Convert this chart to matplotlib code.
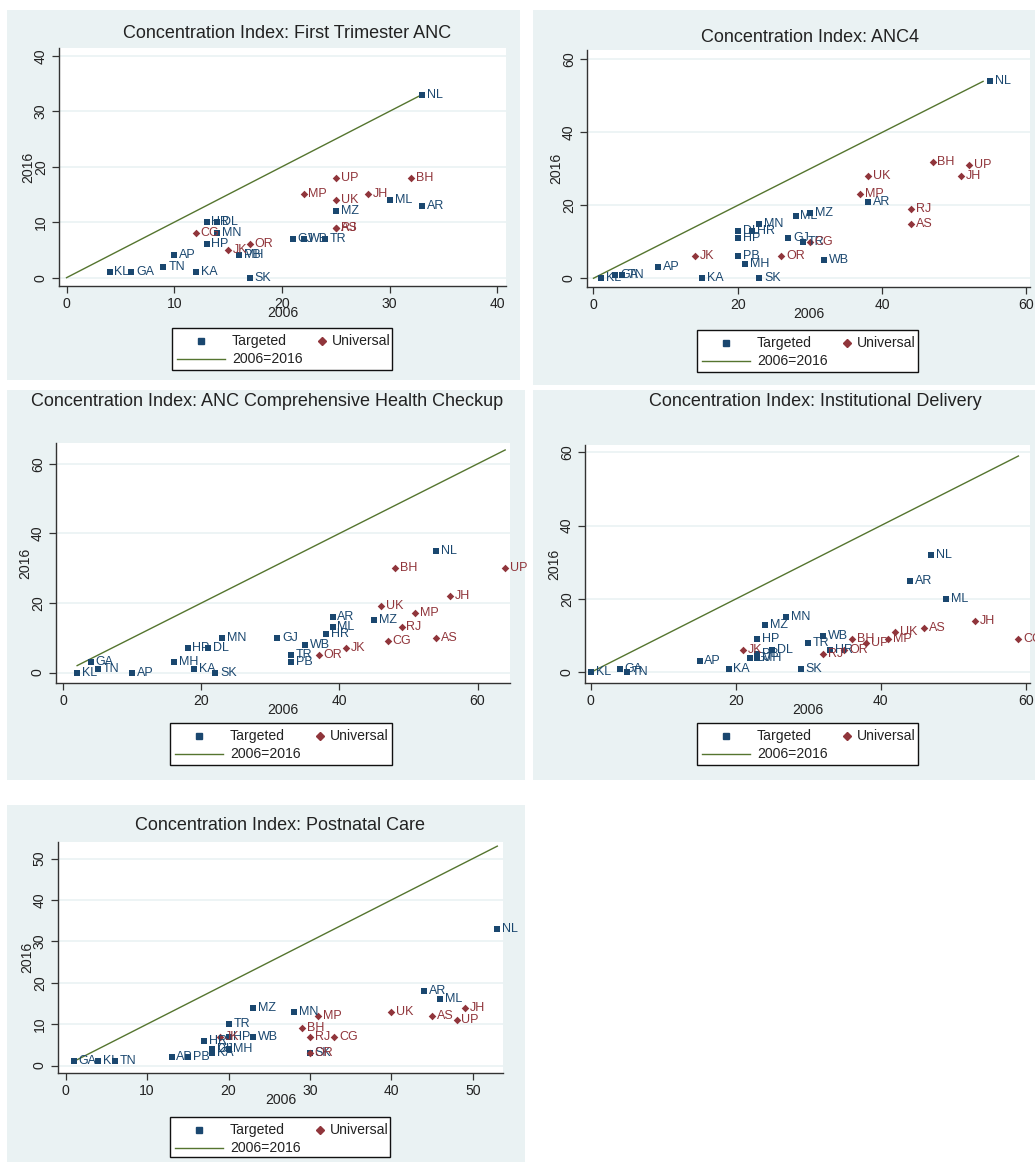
import matplotlib
matplotlib.use("Agg")
import matplotlib.pyplot as plt
from matplotlib.patches import Rectangle
from matplotlib.lines import Line2D

plt.rcParams['font.family'] = ['Liberation Sans', 'DejaVu Sans']

# ---------------- DATA ----------------
titles = [
    "Concentration Index: First Trimester ANC",
    "Concentration Index: ANC4",
    "Concentration Index: ANC Comprehensive Health Checkup",
    "Concentration Index: Institutional Delivery",
    "Concentration Index: Postnatal Care",
]

# Panel 1: First Trimester ANC
p1_t_states = ["NL", "ML", "AR", "MZ", "HR", "DL", "MN", "HP", "KL", "GA", "TN", "KA", "AP", "SK", "GJ", "WB", "TR", "MH", "PB"]
p1_t_2006 = [33, 30, 33, 25, 13, 14, 14, 13, 4, 6, 9, 12, 10, 17, 21, 22, 24, 16, 16]
p1_t_2016 = [33, 14, 13, 12, 10, 10, 8, 6, 1, 1, 2, 1, 4, 0, 7, 7, 7, 4, 4]
p1_u_states = ["UP", "BH", "MP", "JH", "UK", "RJ", "AS", "CG", "OR", "JK"]
p1_u_2006 = [25, 32, 22, 28, 25, 25, 25, 12, 17, 15]
p1_u_2016 = [18, 18, 15, 15, 14, 9, 9, 8, 6, 5]
p1_line = [0, 33]

# Panel 2: ANC4
p2_t_states = ["NL", "AR", "MZ", "ML", "MN", "HR", "DL", "HP", "GJ", "TR", "PB", "MH", "WB", "SK", "KA", "AP", "KL", "GA", "TN"]
p2_t_2006 = [55, 38, 30, 28, 23, 22, 20, 20, 27, 29, 20, 21, 32, 23, 15, 9, 1, 3, 4]
p2_t_2016 = [54, 21, 18, 17, 15, 13, 13, 11, 11, 10, 6, 4, 5, 0, 0, 3, 0, 1, 1]
p2_u_states = ["BH", "UP", "JH", "UK", "MP", "RJ", "AS", "CG", "OR", "JK"]
p2_u_2006 = [47, 52, 51, 38, 37, 44, 44, 30, 26, 14]
p2_u_2016 = [32, 31, 28, 28, 23, 19, 15, 10, 6, 6]
p2_line = [0, 54]

# Panel 3: ANC Comprehensive Health Checkup
p3_t_states = ["NL", "AR", "ML", "HR", "MZ", "GJ", "WB", "TR", "PB", "MN", "HP", "DL", "MH", "KA", "SK", "GA", "TN", "KL", "AP"]
p3_t_2006 = [54, 39, 39, 38, 45, 31, 35, 33, 33, 23, 18, 21, 16, 19, 22, 4, 5, 2, 10]
p3_t_2016 = [35, 16, 13, 11, 15, 10, 8, 5, 3, 10, 7, 7, 3, 1, 0, 3, 1, 0, 0]
p3_u_states = ["UP", "BH", "JH", "UK", "MP", "RJ", "AS", "CG", "JK", "OR"]
p3_u_2006 = [64, 48, 56, 46, 51, 49, 54, 47, 41, 37]
p3_u_2016 = [30, 30, 22, 19, 17, 13, 10, 9, 7, 5]
p3_line = [2, 64]

# Panel 4: Institutional Delivery
p4_t_states = ["NL", "AR", "ML", "MN", "MZ", "HP", "WB", "TR", "DL", "HR", "GJ", "PB", "MH", "SK", "AP", "KA", "GA", "TN", "KL"]
p4_t_2006 = [47, 44, 49, 27, 24, 23, 32, 30, 25, 33, 22, 23, 23, 29, 15, 19, 4, 5, 0]
p4_t_2016 = [32, 25, 20, 15, 13, 9, 10, 8, 6, 6, 4, 5, 4, 1, 3, 1, 1, 0, 0]
p4_u_states = ["JH", "AS", "UK", "MP", "UP", "BH", "OR", "RJ", "JK", "CG"]
p4_u_2006 = [53, 46, 42, 41, 38, 36, 35, 32, 21, 59]
p4_u_2016 = [14, 12, 11, 9, 8, 9, 6, 5, 6, 9]
p4_line = [0, 59]

# Panel 5: Postnatal Care
p5_t_states = ["NL", "AR", "ML", "MZ", "MN", "TR", "WB", "HP", "HR", "GJ", "DL", "MH", "KA", "SK", "PB", "AP", "GA", "KL", "TN"]
p5_t_2006 = [53, 44, 46, 23, 28, 20, 23, 20, 17, 18, 18, 20, 18, 30, 15, 13, 1, 4, 6]
p5_t_2016 = [33, 18, 16, 14, 13, 10, 7, 7, 6, 4, 4, 4, 3, 3, 2, 2, 1, 1, 1]
p5_u_states = ["JH", "UK", "MP", "AS", "UP", "BH", "RJ", "CG", "JK", "OR"]
p5_u_2006 = [49, 40, 31, 45, 48, 29, 30, 33, 19, 30]
p5_u_2016 = [14, 13, 12, 12, 11, 9, 7, 7, 7, 3]
p5_line = [1, 53]

panels = [
    (p1_t_states, p1_t_2006, p1_t_2016, p1_u_states, p1_u_2006, p1_u_2016, p1_line),
    (p2_t_states, p2_t_2006, p2_t_2016, p2_u_states, p2_u_2006, p2_u_2016, p2_line),
    (p3_t_states, p3_t_2006, p3_t_2016, p3_u_states, p3_u_2006, p3_u_2016, p3_line),
    (p4_t_states, p4_t_2006, p4_t_2016, p4_u_states, p4_u_2006, p4_u_2016, p4_line),
    (p5_t_states, p5_t_2006, p5_t_2016, p5_u_states, p5_u_2006, p5_u_2016, p5_line),
]

# ---------------- LAYOUT (pixels) ----------------
W, H = 1035, 1169
BG = "#EAF2F3"
NAVY = "#1a476f"
MAROON = "#90353b"
GREEN = "#55752f"
TXT = "#222222"

layout = [
    dict(bg=(7, 10, 520, 380), plot=(59, 48, 506, 286), xlim=(-0.7, 40.8), ylim=(-1.5, 41.4),
         xt=[0, 10, 20, 30, 40], yt=[0, 10, 20, 30, 40], title=(287, 34), leg=(172, 328, 392, 370)),
    dict(bg=(533, 10, 1035, 385), plot=(587, 50, 1030, 287), xlim=(-0.9, 60.5), ylim=(-2.4, 62.6),
         xt=[0, 20, 40, 60], yt=[0, 20, 40, 60], title=(810, 38), leg=(697, 330, 918, 372)),
    dict(bg=(7, 390, 525, 780), plot=(56, 443, 510, 683), xlim=(-1.06, 64.7), ylim=(-3.0, 66.0),
         xt=[0, 20, 40, 60], yt=[0, 20, 40, 60], title=(267, 402), leg=(170, 723, 392, 765)),
    dict(bg=(533, 390, 1035, 780), plot=(585, 445, 1030, 683), xlim=(-0.8, 60.6), ylim=(-2.9, 62.0),
         xt=[0, 20, 40, 60], yt=[0, 20, 40, 60], title=(815, 402), leg=(697, 723, 918, 765)),
    dict(bg=(7, 805, 525, 1162), plot=(58, 842, 503, 1073), xlim=(-0.94, 53.7), ylim=(-1.8, 54.0),
         xt=[0, 10, 20, 30, 40, 50], yt=[0, 10, 20, 30, 40, 50], title=(280, 826), leg=(170, 1117, 390, 1157)),
]

fig = plt.figure(figsize=(W / 100, H / 100), dpi=100)


def fx(x):
    return x / W


def fy(y):
    return 1 - y / H


def px2pt(p):
    return p * 72 / 100


for i, (pdata, L) in enumerate(zip(panels, layout)):
    ts, tx, ty, us, ux, uy, line = pdata
    x0, y0, x1, y1 = L["bg"]
    fig.patches.append(Rectangle((fx(x0), fy(y1)), fx(x1 - x0), (y1 - y0) / H,
                                 transform=fig.transFigure, facecolor=BG, edgecolor="none", zorder=-5))
    px0, py0, px1, py1 = L["plot"]
    ax = fig.add_axes([fx(px0), fy(py1), fx(px1 - px0), (py1 - py0) / H])
    ax.set_zorder(1)
    ax.set_facecolor("white")
    ax.set_xlim(*L["xlim"])
    ax.set_ylim(*L["ylim"])
    ax.set_xticks(L["xt"])
    ax.set_xticklabels([str(t) for t in L["xt"]])
    ax.set_yticks(L["yt"])
    ax.set_yticklabels([str(t) for t in L["yt"]], rotation=90, va="center")
    for s in ["top", "right"]:
        ax.spines[s].set_visible(False)
    for s in ["left", "bottom"]:
        ax.spines[s].set_color("#333333")
        ax.spines[s].set_linewidth(1.0)
    ax.tick_params(axis="both", direction="out", length=5, width=0.9, color="#333333",
                   labelsize=px2pt(14), labelcolor=TXT, pad=3)
    ax.grid(axis="y", color=BG, linewidth=1.2)
    ax.set_axisbelow(True)

    ax.plot(line, line, color=GREEN, linewidth=1.0, zorder=2)
    ax.scatter(tx, ty, marker="s", s=20, color=NAVY, zorder=3, linewidths=0)
    ax.scatter(ux, uy, marker="D", s=15, color=MAROON, zorder=3, linewidths=0)
    for n, a, b in zip(ts, tx, ty):
        ax.annotate(n, (a, b), xytext=(3.5, 0), textcoords="offset points", va="center", ha="left",
                    fontsize=px2pt(12.5), color=NAVY, zorder=4, annotation_clip=False)
    for n, a, b in zip(us, ux, uy):
        ax.annotate(n, (a, b), xytext=(3.5, 0), textcoords="offset points", va="center", ha="left",
                    fontsize=px2pt(12.5), color=MAROON, zorder=4, annotation_clip=False)

    cx = (px0 + px1) / 2
    tx_, ty_ = L["title"]
    fig.text(fx(tx_), fy(ty_), titles[i], ha="center", va="center",
             fontsize=px2pt(18), color=TXT)
    fig.text(fx(cx), fy(py1 + 27), "2006", ha="center", va="center", fontsize=px2pt(14), color=TXT)
    fig.text(fx(px0 - 31), fy((py0 + py1) / 2), "2016", ha="center", va="center", rotation=90,
             fontsize=px2pt(14), color=TXT)

    lx0, ly0, lx1, ly1 = L["leg"]
    fig.patches.append(Rectangle((fx(lx0), fy(ly1)), fx(lx1 - lx0), (ly1 - ly0) / H,
                                 transform=fig.transFigure, facecolor="white", edgecolor="#111111",
                                 linewidth=1.0, zorder=5))
    r1 = ly0 + 13
    r2 = ly0 + 31
    fig.lines.append(Line2D([fx(lx0 + 29)], [fy(r1)], transform=fig.transFigure, marker="s",
                            markersize=4.5, color=NAVY, linestyle="none", zorder=6))
    fig.text(fx(lx0 + 60), fy(r1), "Targeted", ha="left", va="center", fontsize=px2pt(14), color=TXT, zorder=6)
    fig.lines.append(Line2D([fx(lx0 + 150)], [fy(r1)], transform=fig.transFigure, marker="D",
                            markersize=4, color=MAROON, linestyle="none", zorder=6))
    fig.text(fx(lx0 + 160), fy(r1), "Universal", ha="left", va="center", fontsize=px2pt(14), color=TXT, zorder=6)
    fig.lines.append(Line2D([fx(lx0 + 5), fx(lx0 + 53)], [fy(r2), fy(r2)], transform=fig.transFigure,
                            color=GREEN, linewidth=1.0, zorder=6))
    fig.text(fx(lx0 + 60), fy(r2), "2006=2016", ha="left", va="center", fontsize=px2pt(14), color=TXT, zorder=6)

fig.savefig("out.png", dpi=100, facecolor="white")
